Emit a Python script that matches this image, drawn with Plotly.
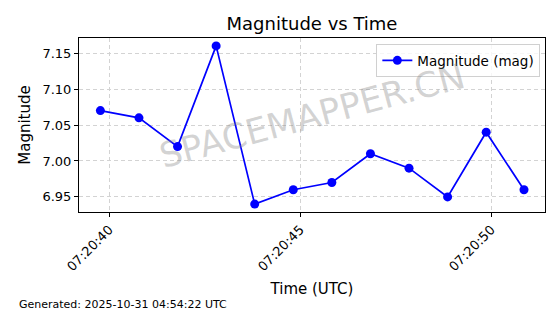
import plotly.graph_objects as go

times = ["2025-10-31 07:20:39.77", "2025-10-31 07:20:40.78", "2025-10-31 07:20:41.79",
         "2025-10-31 07:20:42.80", "2025-10-31 07:20:43.81", "2025-10-31 07:20:44.82",
         "2025-10-31 07:20:45.83", "2025-10-31 07:20:46.84", "2025-10-31 07:20:47.85",
         "2025-10-31 07:20:48.86", "2025-10-31 07:20:49.87", "2025-10-31 07:20:50.86"]
magnitude = [7.07, 7.06, 7.02, 7.16, 6.94, 6.96, 6.97, 7.01, 6.99, 6.95, 7.04, 6.96]
y_ticks = [6.95, 7.00, 7.05, 7.10, 7.15]
x_ticks = ["2025-10-31 07:20:40", "2025-10-31 07:20:45", "2025-10-31 07:20:50"]
x_tick_labels = ["07:20:40", "07:20:45", "07:20:50"]

FONT = "DejaVu Sans"

fig = go.Figure()
fig.add_trace(go.Scatter(
    x=times, y=magnitude, mode="lines+markers", name="Magnitude (mag)",
    line=dict(color="#0000ff", width=1.7),
    marker=dict(color="#0000ff", size=9),
))

axis_common = dict(
    showline=True, linecolor="black", linewidth=1, mirror=True,
    ticks="outside", ticklen=4, tickcolor="black",
    showgrid=True, gridcolor="#d3d3d3", griddash="4px,3px", gridwidth=1,
    zeroline=False, tickfont=dict(family=FONT, size=13, color="black"),
)

fig.update_layout(
    width=560, height=314,
    margin=dict(l=79, r=15, t=38, b=102),
    paper_bgcolor="white", plot_bgcolor="white",
    font=dict(family=FONT, color="black"),
    title=dict(text="Magnitude vs Time", x=0.5, xanchor="center", y=0.925, yanchor="middle",
               xref="paper", font=dict(family=FONT, size=18, color="black")),
    xaxis=dict(
        **axis_common,
        range=["2025-10-31 07:20:39.21", "2025-10-31 07:20:51.41"],
        tickvals=x_ticks, ticktext=x_tick_labels, tickangle=-45,
        title=dict(text="Time (UTC)", font=dict(family=FONT, size=15, color="black"), standoff=10),
    ),
    yaxis=dict(
        **axis_common,
        range=[6.929, 7.171],
        tickvals=y_ticks, tickformat=".2f",
        title=dict(text="Magnitude", font=dict(family=FONT, size=15, color="black"), standoff=8),
    ),
    legend=dict(
        x=0.99, y=0.965, xanchor="right", yanchor="top",
        bgcolor="rgba(255,255,255,0.8)", bordercolor="#d0d0d0", borderwidth=1,
        font=dict(family=FONT, size=13.5, color="black"),
    ),
    showlegend=True,
)

fig.add_annotation(
    text="SPACEMAPPER.CN", xref="paper", yref="paper", x=0.5, y=0.55,
    showarrow=False, textangle=-15,
    font=dict(family=FONT, size=35, color="rgba(128,128,128,0.35)"),
)
fig.add_annotation(
    text="Generated: 2025-10-31 04:54:22 UTC", xref="paper", yref="paper",
    x=-0.133, y=-0.534, xanchor="left", yanchor="middle", showarrow=False,
    font=dict(family=FONT, size=11, color="black"),
)

fig.write_html("out.html")
